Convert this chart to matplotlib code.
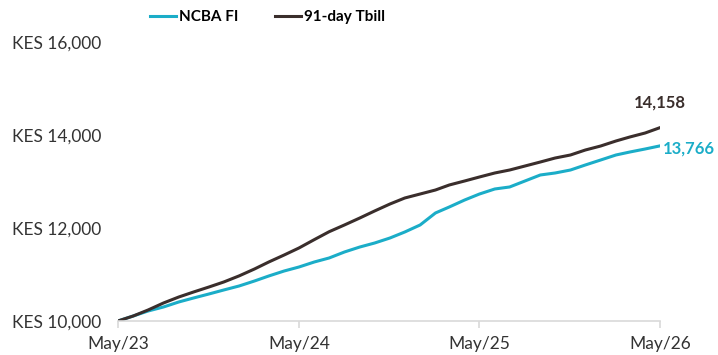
import matplotlib.pyplot as plt
import matplotlib.dates as mdates
import pandas as pd

plt.rcParams['font.family'] = ['Lato', 'DejaVu Sans']

months = pd.date_range('2023-05-01', '2026-05-01', freq='MS')

ncba = [10000, 10108, 10215, 10301, 10409, 10495, 10581, 10667, 10753, 10860,
        10968, 11075, 11161, 11269, 11355, 11484, 11591, 11677, 11785, 11914,
        12065, 12323, 12452, 12602, 12731, 12839, 12882, 13011, 13140, 13183,
        13247, 13355, 13462, 13570, 13634, 13699, 13766]
tbill = [10000, 10108, 10237, 10387, 10516, 10624, 10731, 10839, 10970, 11118,
         11269, 11419, 11570, 11750, 11920, 12065, 12215, 12366, 12516, 12645,
         12731, 12817, 12925, 13011, 13097, 13183, 13247, 13333, 13419, 13505,
         13570, 13677, 13763, 13871, 13957, 14043, 14158]

teal = '#1badc8'
brown = '#3a2e2c'

fig = plt.figure(figsize=(7.18, 3.55), dpi=100)
ax = fig.add_axes([0.1643, 0.0958, 0.7549, 0.7859])

ax.plot(months, ncba, color=teal, lw=2.2, label='NCBA FI')
ax.plot(months, tbill, color=brown, lw=2.2, label='91-day Tbill')

ax.set_ylim(10000, 16000)
ax.set_yticks([10000, 12000, 14000, 16000])
ax.set_yticklabels([f'KES {v:,}' for v in [10000, 12000, 14000, 16000]])
ax.set_xlim(months[0], months[-1])
ax.set_xticks(months[::12])
ax.xaxis.set_major_formatter(mdates.DateFormatter('%b/%y'))

for s in ['top', 'right', 'left']:
    ax.spines[s].set_visible(False)
ax.spines['bottom'].set_color('#d9d9d9')
ax.spines['bottom'].set_linewidth(1.2)
ax.tick_params(axis='y', length=0, pad=12, labelsize=12.5, labelcolor='#333333')
ax.tick_params(axis='x', length=5, width=1.2, color='#d9d9d9', pad=6,
               labelsize=12.5, labelcolor='#333333')

ax.annotate(f'{tbill[-1]:,}', (months[-1], tbill[-1]), xytext=(0, 12),
            textcoords='offset points', ha='center', va='bottom',
            fontsize=12, fontweight='bold', color=brown)
ax.annotate(f'{ncba[-1]:,}', (months[-1], ncba[-1]), xytext=(2, -2),
            textcoords='offset points', ha='left', va='center',
            fontsize=12, fontweight='bold', color=teal)

leg = fig.legend(loc='center', bbox_to_anchor=(0.373, 0.952), ncol=2, frameon=False,
                 prop={'weight': 'bold', 'size': 11},
                 handlelength=1.7, handletextpad=0.2, columnspacing=2.4)

fig.savefig('out.png', dpi=100)
